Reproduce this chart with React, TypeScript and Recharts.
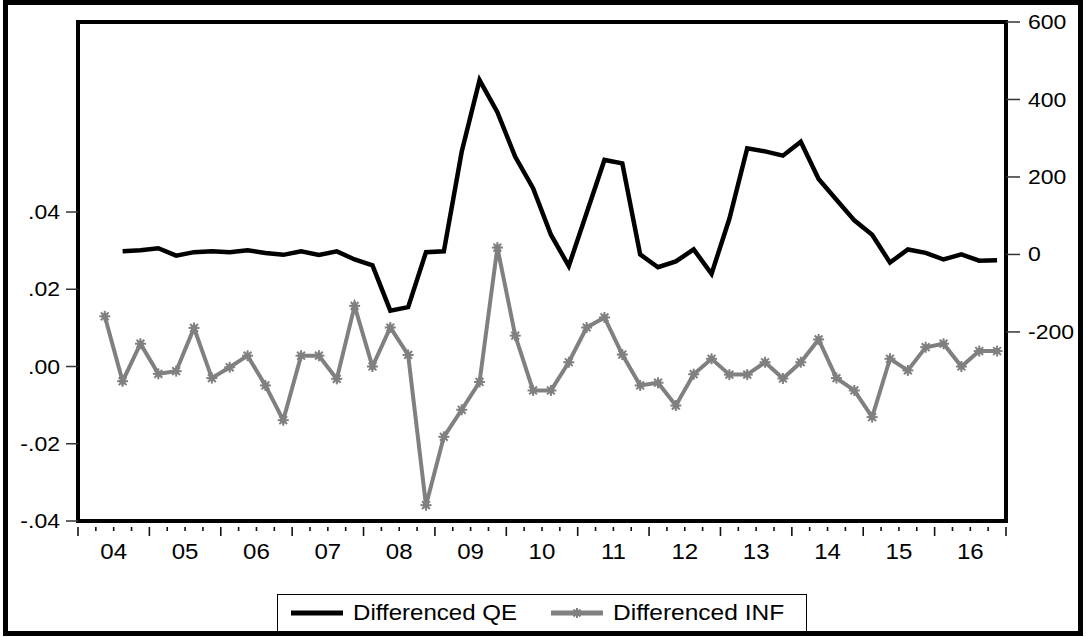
import React from "react";
import { ComposedChart, Line, XAxis, YAxis, ReferenceArea, Legend } from "recharts";

const FONT = '"Liberation Sans", Arial, Helvetica, sans-serif';

const YEAR_LABELS = ["04", "05", "06", "07", "08", "09", "10", "11", "12", "13", "14", "15", "16"];
const QUARTERS = YEAR_LABELS.flatMap((y) => ["Q1", "Q2", "Q3", "Q4"].map((q) => `20${y}${q}`));

// Differenced INF (left axis), first quarter is lost to differencing
const INF = [
  null, 0.013, -0.0038, 0.0059, -0.0019, -0.0012, 0.01, -0.003, -0.0002, 0.0028, -0.0049, -0.0139,
  0.0028, 0.0028, -0.0032, 0.0157, 0.0, 0.0101, 0.003, -0.0359, -0.0182, -0.0112, -0.004, 0.0308,
  0.008, -0.0062, -0.0062, 0.0011, 0.0101, 0.0127, 0.0031, -0.0049, -0.0042, -0.0101, -0.002, 0.002,
  -0.0021, -0.0021, 0.0011, -0.0031, 0.0011, 0.007, -0.003, -0.0062, -0.0131, 0.002, -0.001, 0.005,
  0.0059, 0.0, 0.004, 0.004,
];

// Differenced QE (right axis)
const QE = [
  null, null, 8, 11, 16, -3, 6, 8, 6, 11, 4, -1, 8, -1, 8, -13, -28, -145, -136, 6, 8, 265, 450, 367,
  252, 171, 51, -30, 107, 244, 235, 0, -33, -18, 13, -50, 92, 274, 266, 255, 291, 195, 141, 88, 51,
  -21, 13, 4, -13, 0, -16, -15,
];

const LEFT_TICKS = [-0.04, -0.02, 0, 0.02, 0.04];
const RIGHT_TICKS = [-200, 0, 200, 400, 600];
const LEFT_DOMAIN: [number, number] = [-0.04, 0.0892];
const RIGHT_DOMAIN: [number, number] = [-688, 600];
const X_TICKS = Array.from({ length: 53 }, (_, k) => 2004 + k / 4);

const data = QUARTERS.map((q, i) => ({
  quarter: q,
  x: 2004 + i / 4 + 0.125,
  qe: QE[i],
  inf: INF[i],
}));

const GRAY = "#808080";

const fmtLeft = (v: number) => (v < 0 ? "-" : "") + Math.abs(v).toFixed(2).replace(/^0/, "");

const LeftTick = ({ x, y, payload }: any) => (
  <text
    transform={`translate(${x},${y}) scale(1.18,1)`}
    textAnchor="end"
    dy="0.36em"
    fontSize={19.5}
    fontFamily={FONT}
    fill="#000"
  >
    {fmtLeft(payload.value)}
  </text>
);

const RightTick = ({ x, y, payload }: any) => (
  <text
    transform={`translate(${x},${y}) scale(1.18,1)`}
    textAnchor="start"
    dy="0.36em"
    fontSize={19.5}
    fontFamily={FONT}
    fill="#000"
  >
    {payload.value}
  </text>
);

const XTick = ({ x, y, payload }: any) => {
  const v: number = payload.value;
  const frac = v - Math.floor(v);
  const major = frac === 0;
  const label = frac === 0.5 ? YEAR_LABELS[Math.floor(v) - 2004] : null;
  return (
    <g>
      <line x1={x} x2={x} y1={y + 6} y2={y + (major ? 15 : 10)} stroke="#111" strokeWidth={1.6} />
      {label && (
        <text
          transform={`translate(${x},${y + 38}) scale(1.12,1)`}
          textAnchor="middle"
          fontSize={21.5}
          fontFamily={FONT}
          fill="#000"
        >
          {label}
        </text>
      )}
    </g>
  );
};

const Star = ({ cx, cy, r = 5.5, color = GRAY }: { cx: number; cy: number; r?: number; color?: string }) => {
  const d = r * 0.71;
  return (
    <g stroke={color} strokeWidth={2}>
      <line x1={cx - r} y1={cy} x2={cx + r} y2={cy} />
      <line x1={cx} y1={cy - r} x2={cx} y2={cy + r} />
      <line x1={cx - d} y1={cy - d} x2={cx + d} y2={cy + d} />
      <line x1={cx - d} y1={cy + d} x2={cx + d} y2={cy - d} />
      <circle cx={cx} cy={cy} r={3.2} fill={color} stroke="none" />
    </g>
  );
};

const StarDot = (props: any) => {
  const { cx, cy, index } = props;
  if (cx == null || cy == null || Number.isNaN(cy)) return <g key={index} />;
  return (
    <g key={index}>
      <Star cx={cx} cy={cy} />
    </g>
  );
};

const LegendBox = () => (
  <div
    style={{
      width: 530,
      height: 42,
      border: "1.5px solid #000",
      boxSizing: "border-box",
      background: "#fff",
    }}
  >
    <svg width={527} height={39} style={{ display: "block" }}>
      <line x1={13} x2={65} y1={18} y2={18} stroke="#000" strokeWidth={5} />
      <text transform="translate(75,25) scale(1.12,1)" fontSize={21.5} fontFamily={FONT} fill="#000">
        Differenced QE
      </text>
      <line x1={273} x2={325} y1={18} y2={18} stroke={GRAY} strokeWidth={5} />
      <Star cx={299} cy={18} r={5} />
      <text transform="translate(335,25) scale(1.14,1)" fontSize={21.5} fontFamily={FONT} fill="#000">
        Differenced INF
      </text>
    </svg>
  </div>
);

export default function App() {
  return (
    <div style={{ position: "absolute", left: 0, top: 0, width: 1086, height: 637, background: "#fff" }}>
      <ComposedChart width={1086} height={637} data={data} margin={{ top: 22, right: 0, bottom: 0, left: 0 }}>
        <XAxis
          type="number"
          dataKey="x"
          domain={[2004, 2017]}
          ticks={X_TICKS}
          interval={0}
          tick={<XTick />}
          tickLine={false}
          axisLine={false}
          tickSize={0}
          tickMargin={0}
          height={116}
          allowDataOverflow
        />
        <YAxis
          yAxisId="left"
          domain={LEFT_DOMAIN}
          ticks={LEFT_TICKS}
          interval={0}
          width={78}
          axisLine={false}
          tickLine={{ stroke: "#333", strokeWidth: 1.5 }}
          tickSize={12}
          tickMargin={6}
          tick={<LeftTick />}
          allowDataOverflow
        />
        <YAxis
          yAxisId="right"
          orientation="right"
          domain={RIGHT_DOMAIN}
          ticks={RIGHT_TICKS}
          interval={0}
          width={80}
          axisLine={false}
          tickLine={{ stroke: "#333", strokeWidth: 1.5 }}
          tickSize={14}
          tickMargin={8}
          tick={<RightTick />}
          allowDataOverflow
        />
        <ReferenceArea
          yAxisId="left"
          x1={2004}
          x2={2017}
          y1={LEFT_DOMAIN[0]}
          y2={LEFT_DOMAIN[1]}
          fill="none"
          stroke="#000"
          strokeWidth={4}
          ifOverflow="visible"
        />
        <Line
          yAxisId="right"
          type="linear"
          dataKey="qe"
          name="Differenced QE"
          stroke="#000"
          strokeWidth={4.5}
          dot={false}
          activeDot={false}
          isAnimationActive={false}
        />
        <Line
          yAxisId="left"
          type="linear"
          dataKey="inf"
          name="Differenced INF"
          stroke={GRAY}
          strokeWidth={4}
          dot={<StarDot />}
          activeDot={false}
          isAnimationActive={false}
        />
        <Legend
          layout="horizontal"
          verticalAlign="middle"
          align="center"
          content={<LegendBox />}
          wrapperStyle={{ left: 277, top: 594, width: 530, height: 42 }}
        />
      </ComposedChart>
      <div
        style={{
          position: "absolute",
          left: 3,
          top: 0,
          width: 1080,
          height: 636,
          border: "5px solid #000",
          boxSizing: "border-box",
          pointerEvents: "none",
        }}
      />
    </div>
  );
}
